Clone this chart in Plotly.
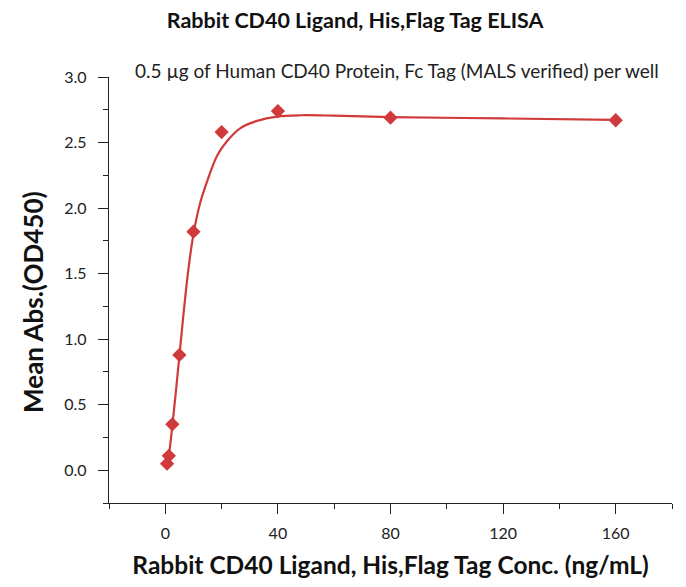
import plotly.graph_objects as go

# Measured data points
conc = [160, 80, 40, 20, 10, 5, 2.5, 1.25, 0.625]
od450 = [2.67, 2.69, 2.74, 2.58, 1.82, 0.88, 0.35, 0.11, 0.05]

# Fitted curve
fit_x = [0.625, 1.25, 2.5, 3.75, 5, 6.5, 8.3, 10, 12.4, 14.8, 18.4, 21.9, 26.7, 32.6, 39.7, 48, 60, 80, 120, 160]
fit_y = [0.04, 0.11, 0.34, 0.60, 0.87, 1.20, 1.55, 1.80, 2.04, 2.20, 2.40, 2.51, 2.61, 2.665, 2.698, 2.708, 2.705, 2.694, 2.684, 2.673]

x_ticks = [0, 40, 80, 120, 160]
y_ticks = [0.0, 0.5, 1.0, 1.5, 2.0, 2.5, 3.0]

title = "Rabbit CD40 Ligand, His,Flag Tag ELISA"
subtitle = "0.5 µg of Human CD40 Protein, Fc Tag (MALS verified) per well"
x_title = "Rabbit CD40 Ligand, His,Flag Tag Conc. (ng/mL)"
y_title = "Mean Abs.(OD450)"

red = "#D03A3A"
font_main = "Lato, Open Sans, sans-serif"

fig = go.Figure()
fig.add_trace(go.Scatter(x=fit_x, y=fit_y, mode="lines",
                         line=dict(color=red, width=2.2, shape="spline", smoothing=1.0),
                         hoverinfo="skip", showlegend=False))
fig.add_trace(go.Scatter(x=conc, y=od450, mode="markers",
                         marker=dict(symbol="diamond", size=11, color=red),
                         showlegend=False))

axis_common = dict(showline=True, linecolor="#222", linewidth=1.3, showgrid=False,
                   zeroline=False, ticks="outside", tickcolor="#222", tickwidth=1.3,
                   ticklen=10, tickfont=dict(family=font_main, size=16, color="#222"))

fig.update_xaxes(range=[-20, 180], tickvals=x_ticks, ticktext=[str(v) for v in x_ticks],
                 minor=dict(dtick=20, tick0=0, ticks="outside", ticklen=5, tickcolor="#222", tickwidth=1.3),
                 ticklabelstandoff=6,
                 title=dict(text=x_title, font=dict(family=font_main, size=24.5, color="#111", weight="bold"), standoff=15),
                 **axis_common)
fig.update_yaxes(range=[-0.25, 3.0], tickvals=y_ticks, ticktext=[f"{v:.1f}" for v in y_ticks],
                 minor=dict(dtick=0.25, tick0=0, ticks="outside", ticklen=5, tickcolor="#222", tickwidth=1.3),
                 ticklabelstandoff=8,
                 **axis_common)

fig.update_layout(
    width=686, height=587,
    margin=dict(l=101, r=22, t=69, b=92),
    paper_bgcolor="white", plot_bgcolor="white",
    title=dict(text=title, x=0.506, xanchor="center", y=0.978, yanchor="middle",
               font=dict(family=font_main, size=21.5, color="#111", weight="bold")),
    annotations=[
        dict(text=subtitle, xref="paper", yref="paper", x=0.512, y=1.0, yshift=7,
             xanchor="center", yanchor="middle", showarrow=False,
             font=dict(family=font_main, size=19, color="#222")),
        dict(text=y_title, xref="paper", yref="paper", x=-0.135, y=0.472,
             xanchor="center", yanchor="middle", textangle=-90, showarrow=False,
             font=dict(family=font_main, size=26, color="#111", weight="bold")),
    ],
)

fig.write_html("out.html")
